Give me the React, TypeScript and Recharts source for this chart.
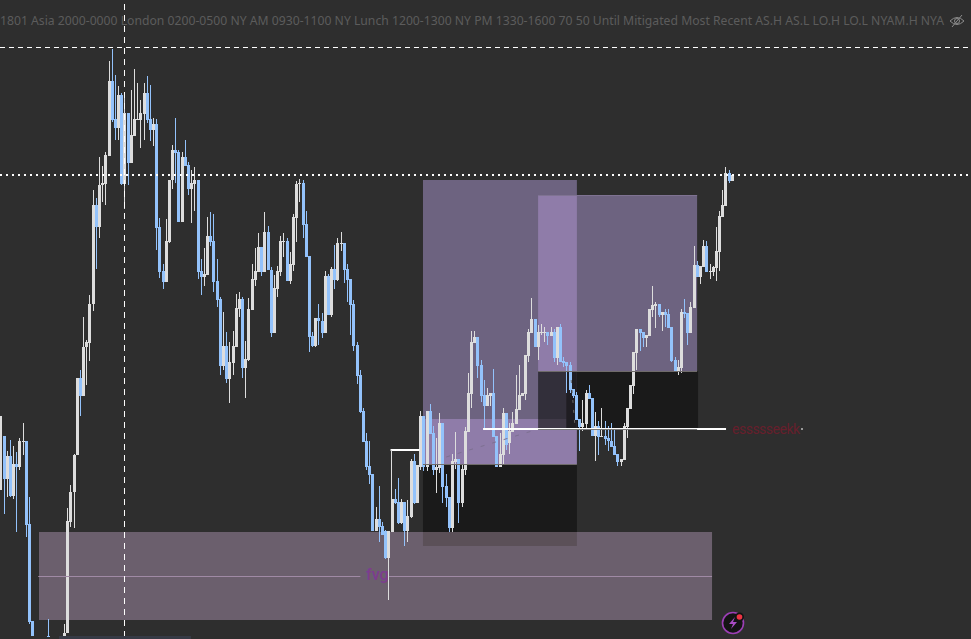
import { BarChart, Bar, XAxis, YAxis, ReferenceArea, ReferenceLine } from 'recharts';

// Prices are read in picture units, so a smaller number sits higher on the chart.
const opens = [
  490, 436, 479, 456, 496, 464, 467, 442, 441, 524,
  621, 636, 636, 636, 636, 636, 636, 636, 636, 636,
  636, 633, 522, 492, 455, 378, 396, 347, 343, 304,
  205, 227, 185, 184, 156, 81, 119, 128, 95, 184,
  113, 163, 136, 120, 120, 114, 93, 119, 130, 124,
  227, 271, 282, 242, 180, 150, 152, 222, 157, 165,
  189, 184, 180, 271, 277, 275, 236, 241, 281, 299,
  366, 346, 379, 363, 347, 309, 299, 368, 360, 310,
  280, 272, 247, 272, 232, 270, 333, 289, 272, 242,
  241, 281, 265, 218, 184, 183, 224, 256, 336, 346,
  318, 321, 333, 276, 315, 269, 280, 244, 243, 269,
  279, 304, 345, 375, 411, 441, 466, 474, 531, 519,
  526, 531, 558, 532, 499, 502, 523, 502, 531, 517,
  461, 503, 467, 416, 467, 411, 433, 470, 468, 423,
  486, 497, 528, 462, 459, 503, 470, 432, 394, 343,
  337, 365, 395, 406, 396, 393, 436, 467, 455, 413,
  443, 432, 424, 410, 396, 394, 356, 333, 319, 347,
  333, 333, 332, 336, 332, 358, 327, 361, 362, 365,
  389, 395, 419, 427, 424, 393, 398, 436, 426, 437,
  436, 438, 441, 446, 454, 462, 460, 427, 409, 386,
  353, 329, 332, 338, 336, 310, 306, 304, 315, 312,
  314, 327, 360, 372, 368, 312, 313, 333, 308, 265,
  277, 267, 246, 272, 272, 268, 252, 217, 206, 173, 181,
];
const closes = [
  416, 479, 456, 496, 464, 467, 441, 441, 525, 622,
  636, 636, 636, 636, 636, 636, 636, 636, 636, 636,
  633, 521, 492, 455, 378, 396, 347, 342, 304, 205,
  227, 185, 183, 155, 81, 120, 128, 95, 184, 113,
  163, 135, 119, 119, 113, 93, 120, 130, 124, 228,
  272, 282, 241, 180, 150, 153, 222, 157, 166, 189,
  183, 180, 272, 277, 274, 236, 242, 282, 300, 366,
  346, 379, 362, 346, 308, 299, 368, 359, 309, 279,
  271, 247, 272, 232, 270, 333, 288, 271, 241, 241,
  281, 264, 217, 184, 183, 225, 257, 337, 346, 318,
  321, 333, 276, 315, 269, 280, 243, 243, 270, 280,
  305, 346, 376, 412, 442, 467, 475, 531, 519, 527,
  535, 558, 531, 499, 503, 523, 502, 531, 516, 461,
  503, 465, 416, 467, 411, 434, 470, 467, 423, 487,
  498, 528, 461, 459, 503, 469, 431, 393, 342, 337,
  366, 396, 406, 395, 393, 437, 467, 454, 413, 445,
  431, 423, 409, 395, 393, 355, 332, 319, 347, 332,
  332, 332, 336, 332, 358, 327, 362, 363, 366, 390,
  396, 420, 427, 423, 393, 399, 436, 426, 437, 436,
  439, 441, 447, 455, 462, 459, 426, 408, 385, 352,
  329, 333, 338, 335, 309, 305, 304, 315, 312, 315,
  328, 361, 372, 367, 312, 314, 333, 307, 265, 277,
  266, 246, 272, 271, 267, 251, 216, 205, 173, 181, 175,
];
const highs = [
  416, 436, 451, 440, 446, 452, 438, 423, 441, 497,
  621, 636, 636, 636, 636, 619, 636, 636, 636, 636,
  624, 508, 485, 454, 378, 370, 317, 340, 295, 190,
  198, 157, 166, 152, 61, 49, 75, 86, 93, 92,
  113, 90, 69, 83, 100, 83, 76, 85, 118, 119,
  218, 264, 219, 180, 145, 118, 150, 152, 140, 162,
  170, 167, 180, 259, 248, 217, 212, 214, 259, 297,
  312, 332, 342, 331, 294, 292, 297, 341, 298, 264,
  248, 233, 247, 212, 226, 267, 275, 266, 236, 233,
  238, 252, 214, 181, 179, 180, 211, 256, 332, 318,
  304, 313, 271, 274, 267, 245, 238, 232, 243, 264,
  279, 300, 342, 370, 408, 433, 441, 474, 507, 486,
  522, 530, 531, 499, 489, 478, 499, 502, 500, 459,
  454, 465, 411, 416, 411, 404, 426, 438, 413, 423,
  474, 497, 454, 432, 459, 465, 427, 373, 331, 331,
  337, 360, 380, 388, 393, 369, 436, 433, 408, 413,
  423, 412, 375, 365, 393, 355, 329, 298, 319, 325,
  324, 327, 332, 327, 329, 327, 324, 357, 362, 362,
  389, 392, 419, 400, 390, 385, 398, 412, 421, 408,
  421, 426, 423, 430, 454, 459, 423, 408, 385, 352,
  329, 329, 332, 335, 309, 286, 302, 304, 312, 309,
  309, 327, 357, 360, 309, 299, 313, 302, 246, 261,
  266, 240, 241, 264, 266, 227, 211, 190, 167, 170, 175,
];
const lows = [
  490, 514, 497, 497, 499, 532, 470, 455, 537, 624,
  636, 636, 636, 636, 636, 636, 636, 636, 636, 636,
  636, 633, 527, 528, 455, 416, 396, 385, 361, 311,
  269, 238, 202, 205, 156, 122, 140, 140, 185, 209,
  185, 163, 136, 120, 148, 140, 123, 141, 146, 250,
  278, 289, 282, 243, 189, 183, 222, 222, 166, 195,
  223, 211, 279, 295, 286, 275, 246, 292, 307, 375,
  370, 383, 403, 375, 347, 317, 378, 398, 361, 310,
  286, 272, 276, 272, 270, 337, 333, 297, 276, 257,
  281, 284, 271, 242, 202, 238, 257, 352, 347, 347,
  345, 338, 333, 315, 317, 289, 281, 251, 283, 302,
  335, 351, 384, 413, 442, 470, 484, 531, 531, 542,
  535, 559, 600, 532, 504, 524, 524, 546, 542, 518,
  504, 503, 470, 471, 471, 434, 475, 493, 473, 503,
  507, 532, 532, 469, 523, 507, 475, 432, 408, 343,
  378, 402, 428, 406, 406, 437, 467, 467, 465, 450,
  454, 432, 424, 410, 396, 400, 362, 333, 347, 360,
  335, 342, 345, 336, 362, 365, 362, 367, 393, 393,
  398, 420, 451, 431, 429, 399, 436, 461, 455, 437,
  445, 451, 447, 455, 466, 466, 460, 438, 409, 394,
  370, 351, 347, 347, 336, 317, 328, 317, 331, 327,
  328, 362, 372, 375, 373, 318, 345, 333, 308, 277,
  284, 267, 272, 279, 276, 281, 271, 217, 206, 183, 181,
];

const headerText =
  '1801 Asia 2000-0000 London 0200-0500 NY AM 0930-1100 NY Lunch 1200-1300 NY PM 1330-1600 70 50 Until Mitigated Most Recent AS.H AS.L LO.H LO.L NYAM.H NYA';

// [left bar, right bar, top price, bottom price]
const fvgBand = [11.95, 223.6, 532, 620];
const blockDark = [132.7, 181.1, 464, 532];
const blockDarkOverlap = [132.7, 181.1, 532, 546];
const blockLeft = [132.7, 181.1, 180, 419];
const blockLeftLow = [132.7, 181.1, 419, 464];
const blockRight = [168.9, 218.9, 195, 371];
const blockOverlap = [168.9, 181.1, 195, 371];
const stopRight = [181.1, 219.2, 371, 429];
const stopOverlap = [168.9, 177.7, 371, 419];
const stopOverlapLow = [168.9, 177.7, 419, 429];
const stopEdge = [177.7, 181.1, 371, 429];

const zones = [
  { box: fvgBand, fill: '#6b5f6d' },
  { box: blockDark, fill: '#1a1a1a' },
  { box: blockDarkOverlap, fill: '#5b5058' },
  { box: blockLeft, fill: '#6d6380' },
  { box: blockLeftLow, fill: '#8f7ca9' },
  { box: blockRight, fill: '#6d6380' },
  { box: blockOverlap, fill: '#8f7ca9' },
  { box: stopRight, fill: '#1a1a1a' },
  { box: stopOverlap, fill: '#322f3a' },
  { box: stopOverlapLow, fill: '#403a48' },
  { box: stopEdge, fill: '#1f1d22' },
];

const WHITE = '#dddddd';
const BLUE = '#93c2fb';
const BODY_WIDTH = 3;

const candles = opens.map((open, i) => ({
  bar: i,
  open,
  close: closes[i],
  high: highs[i],
  low: lows[i],
}));

function Candle(props: any) {
  const { x, y, width, height, payload } = props;
  if (!payload || !height) return null;
  const up = payload.close < payload.open;
  const color = up ? WHITE : BLUE;
  const left = Math.round(x + width / 2 - BODY_WIDTH / 2);
  // the y axis runs downward, so the bar height can come in negative
  const wickTop = Math.min(y, y + height);
  const wickH = Math.abs(height);
  const scale = wickH / (payload.low - payload.high);
  const top = wickTop + (Math.min(payload.open, payload.close) - payload.high) * scale;
  const bodyH = Math.max(Math.abs(payload.open - payload.close) * scale, 1);
  return (
    <g>
      <rect x={left + 1} y={wickTop} width={1} height={wickH} fill={color} />
      <rect x={left} y={top} width={BODY_WIDTH} height={bodyH} fill={color} />
    </g>
  );
}

export default function App() {
  return (
    <div style={{ position: 'fixed', left: 0, top: 0, width: 971, height: 639, overflow: 'hidden', background: '#2e2e2e', fontFamily: 'Roboto, sans-serif' }}>
      <BarChart width={971} height={639} data={candles} margin={{ top: 0, right: 0, bottom: 0, left: 0 }} barSize={3}>
        <XAxis dataKey="bar" type="number" domain={[-0.314, 305.03]} hide allowDataOverflow />
        <YAxis type="number" domain={[0, 639]} reversed hide allowDataOverflow />
        {zones.map((z, i) => (
          <ReferenceArea key={i} x1={z.box[0]} x2={z.box[1]} y1={z.box[2]} y2={z.box[3]} fill={z.fill} fillOpacity={1} stroke="none" />
        ))}
        <ReferenceLine segment={[{ x: 168.9, y: 371.5 }, { x: 218.9, y: 371.5 }]} stroke="#6f6b6a" />
        <ReferenceLine segment={[{ x: 132.7, y: 464.5 }, { x: 181.1, y: 464.5 }]} stroke="#6f6b6a" />
        <ReferenceLine segment={[{ x: 168.9, y: 195.5 }, { x: 218.9, y: 195.5 }]} stroke="#7f7392" />
        <ReferenceLine segment={[{ x: 11.7, y: 576.5 }, { x: 113, y: 576.5 }]} stroke="#a08aa5" />
        <ReferenceLine segment={[{ x: 122, y: 576.5 }, { x: 223.6, y: 576.5 }]} stroke="#a08aa5" />
        <ReferenceLine segment={[{ x: 140, y: 457 }, { x: 167, y: 431 }]} stroke="#7d7091" strokeDasharray="4 8" />
        <ReferenceLine segment={[{ x: 179.3, y: 380 }, { x: 180.5, y: 427 }]} stroke="#6a6a6a" strokeDasharray="3 7" />
        <Bar dataKey={(d: any) => [d.high, d.low]} shape={Candle} isAnimationActive={false} />
        <ReferenceLine y={47.5} stroke="#ffffff" strokeDasharray="5 4" zIndex={900} />
        <ReferenceLine y={175} stroke="#ffffff" strokeWidth={2} strokeDasharray="2 4" zIndex={900} />
        <ReferenceLine segment={[{ x: 38.836, y: 4 }, { x: 38.836, y: 639 }]} stroke="#ffffff" strokeDasharray="6 5" zIndex={900} />
        <ReferenceLine segment={[{ x: 151.6, y: 429 }, { x: 228, y: 429 }]} stroke="#ffffff" strokeWidth={2} zIndex={900} />
        <ReferenceLine segment={[{ x: 168.9, y: 429.5 }, { x: 218.9, y: 429.5 }]} stroke="#7a7a7a" zIndex={901} />
        <ReferenceLine segment={[{ x: 122.5, y: 450 }, { x: 131.6, y: 450 }]} stroke="#ffffff" strokeWidth={2} zIndex={900} />
        <ReferenceLine segment={[{ x: 122.8, y: 450 }, { x: 122.8, y: 499 }]} stroke="#dddddd" zIndex={900} />
      </BarChart>

      <div style={{ position: 'absolute', left: 0, top: 12, height: 18, whiteSpace: 'nowrap', fontSize: 12.2, lineHeight: '18px', color: '#5c5c5c', fontFamily: '"Noto Sans", sans-serif' }}>
        {headerText}
      </div>
      <svg width={16} height={14} viewBox="0 0 16 14" style={{ position: 'absolute', left: 949, top: 14 }}>
        <path d="M1 7 Q8 0 15 7 Q8 14 1 7 Z" fill="none" stroke="#8c8c8c" strokeWidth={1} />
        <circle cx={8} cy={7} r={2.5} fill="none" stroke="#8c8c8c" />
        <line x1={3} y1={13} x2={13} y2={1} stroke="#8c8c8c" />
      </svg>
      <div style={{ position: 'absolute', left: 59, top: 636, width: 132, height: 3, background: '#363a45' }} />
      <div style={{ position: 'absolute', left: 366, top: 565, fontSize: 16, fontWeight: 500, lineHeight: '20px', color: '#7d3c8f' }}>fvg</div>
      <div style={{ position: 'absolute', left: 732, top: 420, fontSize: 14, letterSpacing: -0.5, lineHeight: '18px', color: '#661f2c' }}>essssseekk</div>
      <div style={{ position: 'absolute', left: 801, top: 428, width: 2, height: 2, background: '#999999' }} />
      <svg width={26} height={26} viewBox="0 0 26 26" style={{ position: 'absolute', left: 720, top: 610 }}>
        <circle cx={13} cy={13} r={10.5} fill="#141414" stroke="#9c3fb5" strokeWidth={1.6} />
        <path d="M15 7 L9 14 L13 14 L11 19 L17 12 L13 12 Z" fill="#a84cc4" />
        <circle cx={19.5} cy={7} r={4.5} fill="#141414" />
        <circle cx={19.5} cy={7} r={2.8} fill="#ee3344" />
      </svg>
    </div>
  );
}
